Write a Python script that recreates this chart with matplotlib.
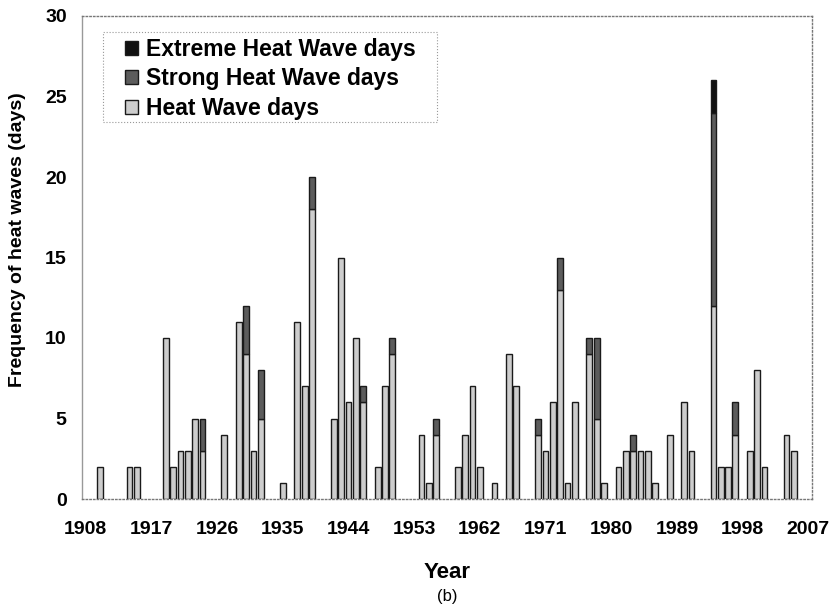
import numpy as np
import matplotlib.pyplot as plt
from matplotlib.patches import Rectangle

# years with at least one heat wave day
years = [1910, 1914, 1915, 1919, 1920, 1921, 1922, 1923, 1924, 1927,
         1929, 1930, 1931, 1932, 1935, 1937, 1938, 1939, 1942, 1943,
         1944, 1945, 1946, 1948, 1949, 1950, 1954, 1955, 1956, 1959,
         1960, 1961, 1962, 1964, 1966, 1967, 1970, 1971, 1972, 1973,
         1974, 1975, 1977, 1978, 1979, 1981, 1982, 1983, 1984, 1985,
         1986, 1988, 1990, 1991, 1994, 1995, 1996, 1997, 1999, 2000,
         2001, 2004, 2005]
heat_wave = [2, 2, 2, 10, 2, 3, 3, 5, 3, 4,
             11, 9, 3, 5, 1, 11, 7, 18, 5, 15,
             6, 10, 6, 2, 7, 9, 4, 1, 4, 2,
             4, 7, 2, 1, 9, 7, 4, 3, 6, 13,
             1, 6, 9, 5, 1, 2, 3, 3, 3, 3,
             1, 4, 6, 3, 12, 2, 2, 4, 3, 8,
             2, 4, 3]
strong = [0, 0, 0, 0, 0, 0, 0, 0, 2, 0,
          0, 3, 0, 3, 0, 0, 0, 2, 0, 0,
          0, 0, 1, 0, 0, 1, 0, 0, 1, 0,
          0, 0, 0, 0, 0, 0, 1, 0, 0, 2,
          0, 0, 1, 5, 0, 0, 0, 1, 0, 0,
          0, 0, 0, 0, 12, 0, 0, 2, 0, 0,
          0, 0, 0]
extreme = [0] * 54 + [2] + [0] * 8

year_ticks = list(range(1908, 2008, 9))
y_ticks = [0, 5, 10, 15, 20, 25, 30]

plt.rcParams["font.family"] = "Liberation Sans"

x = np.array(years)
hw = np.array(heat_wave)
st = np.array(strong)
ex = np.array(extreme)

fig = plt.figure(figsize=(8.35, 6.08), dpi=100)
ax = fig.add_axes([82 / 835, 1 - 499 / 608, 730 / 835, 483 / 608])

bar_kw = dict(width=0.8, edgecolor="#1a1a1a", linewidth=1.0)
b_hw = ax.bar(x, hw, color="#cdcdcd", **bar_kw)
m = st > 0
b_st = ax.bar(x[m], st[m], bottom=hw[m], color="#5c5c5c", **bar_kw)
m = ex > 0
b_ex = ax.bar(x[m], ex[m], bottom=(hw + st)[m], color="#111111", **bar_kw)

# axes
ax.set_xlim(1907.5, 2007.5)
ax.set_ylim(0, 30)
ax.set_xticks(year_ticks)
ax.set_yticks(y_ticks)
ax.tick_params(length=0, labelsize=14)
ax.tick_params(axis="y", pad=11)
ax.tick_params(axis="x", pad=16)
for lab in ax.get_xticklabels() + ax.get_yticklabels():
    lab.set_fontweight("bold")
for sp in ax.spines.values():
    sp.set_linestyle(":")
    sp.set_color("#777777")
    sp.set_linewidth(1)
ax.spines["left"].set_linestyle("-")
ax.spines["left"].set_color("#999999")

# labels
fig.text(18 / 835, 1 - 240 / 608, "Frequency of heat waves (days)",
         rotation=90, ha="center", va="center", fontsize=14, fontweight="bold")
fig.text(447 / 835, 1 - 573 / 608, "Year", ha="center", va="center",
         fontsize=16, fontweight="bold")
fig.text(447 / 835, 1 - 596 / 608, "(b)", ha="center", va="center", fontsize=12)

# legend box (dotted) + frameless legend inside it
ax.add_patch(Rectangle(((103 - 82) / 730, (499 - 122) / 483), 334 / 730, 90 / 483,
                       transform=ax.transAxes, fill=False, linestyle=":",
                       edgecolor="#999999", linewidth=0.8))
leg = ax.legend([b_ex, b_st, b_hw],
                ["Extreme Heat Wave days", "Strong Heat Wave days", "Heat Wave days"],
                loc="upper left", bbox_to_anchor=((125 - 82) / 730, (499 - 38) / 483),
                borderaxespad=0, borderpad=0, frameon=False,
                prop={"weight": "bold", "size": 16.5},
                handlelength=0.55, handleheight=0.55, handletextpad=0.35,
                labelspacing=0.28)

fig.savefig("out.png", dpi=100)
